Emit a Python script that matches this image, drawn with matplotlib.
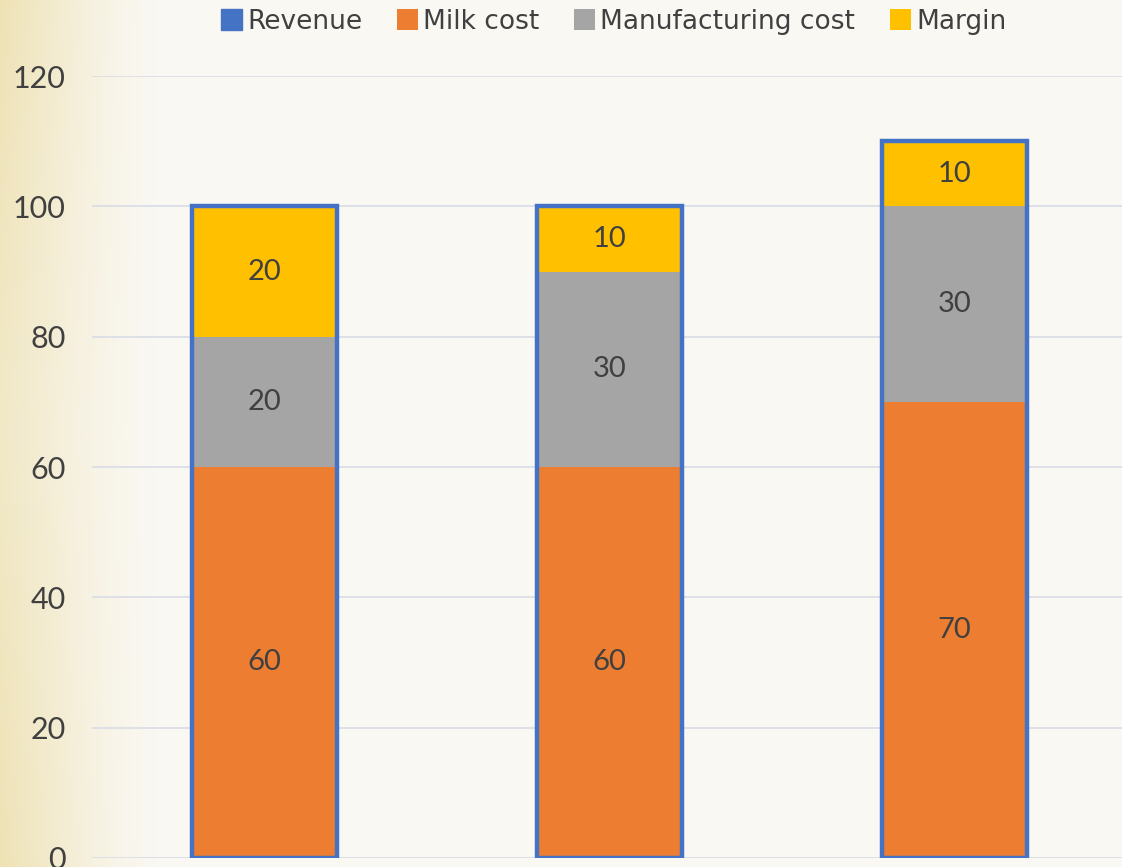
import matplotlib
matplotlib.use("Agg")
import matplotlib.pyplot as plt
import numpy as np
from matplotlib.patches import Patch
from matplotlib.colors import LinearSegmentedColormap

categories = ["A", "B", "C"]
milk_cost = [60, 60, 70]
manufacturing_cost = [20, 30, 30]
margin = [20, 10, 10]
revenue = [100, 100, 110]
yticks = [0, 20, 40, 60, 80, 100, 120]

C_REV = "#4472C4"
C_MILK = "#ED7D31"
C_MFG = "#A5A5A5"
C_MARGIN = "#FFC000"
TXT = "#404040"

fig = plt.figure(figsize=(11.22, 8.67), dpi=100)

# parchment background
bg = fig.add_axes([0, 0, 1, 1], zorder=-10)
bg.axis("off")
nx, ny = 300, 200
xx = np.linspace(0, 1, nx)
yy = np.linspace(0, 1, ny)
X, Y = np.meshgrid(xx, yy)
v = np.clip(1 - X / 0.14, 0, 1) ** 1.3 * (0.7 + 0.3 * np.abs(Y - 0.5) * 2)
cmap = LinearSegmentedColormap.from_list("parch", ["#FAF8F3", "#EEE2B5"])
bg.imshow(v, cmap=cmap, aspect="auto", extent=[0, 1, 0, 1], vmin=0, vmax=1)
bg.set_xlim(0, 1)
bg.set_ylim(0, 1)

ax = fig.add_axes([0.082, 0.0104, 0.918, 0.9019])
ax.set_facecolor("none")
x = np.arange(len(categories))
w = 0.42

b1 = ax.bar(x, milk_cost, w, color=C_MILK, zorder=2)
bottom2 = np.array(milk_cost)
b2 = ax.bar(x, manufacturing_cost, w, bottom=bottom2, color=C_MFG, zorder=2)
bottom3 = bottom2 + np.array(manufacturing_cost)
b3 = ax.bar(x, margin, w, bottom=bottom3, color=C_MARGIN, zorder=2)
ax.bar(x, revenue, w, fill=False, edgecolor=C_REV, linewidth=3.2, zorder=3)

for bars, vals, bots in [(b1, milk_cost, np.zeros(3)), (b2, manufacturing_cost, bottom2), (b3, margin, bottom3)]:
    for xi, v_, b_ in zip(x, vals, bots):
        ax.text(xi, b_ + v_ / 2, str(v_), ha="center", va="center",
                fontsize=21, color=TXT, family="Lato", zorder=4)

ax.set_xlim(-0.5, 2.486)
ax.set_ylim(0, 120)
ax.set_yticks(yticks)
ax.set_yticklabels([str(t) for t in yticks], fontsize=22, color=TXT, family="Lato")
ax.tick_params(axis="y", length=0, pad=19)
ax.set_xticks([])
ax.grid(axis="y", color="#D9DCE6", linewidth=1.2, zorder=0)
ax.set_axisbelow(True)
for s in ax.spines.values():
    s.set_visible(False)

handles = [Patch(facecolor=C_REV, edgecolor=C_REV, label="Revenue"),
           Patch(facecolor=C_MILK, label="Milk cost"),
           Patch(facecolor=C_MFG, label="Manufacturing cost"),
           Patch(facecolor=C_MARGIN, label="Margin")]
leg = fig.legend(handles=handles, loc="center", bbox_to_anchor=(0.547, 0.975), ncol=4,
                 frameon=False, prop={"family": "DejaVu Sans", "size": 19},
                 handlelength=0.8, handleheight=0.8, handletextpad=0.2, columnspacing=1.3)
for t in leg.get_texts():
    t.set_color(TXT)

fig.savefig("out.png", dpi=100)
